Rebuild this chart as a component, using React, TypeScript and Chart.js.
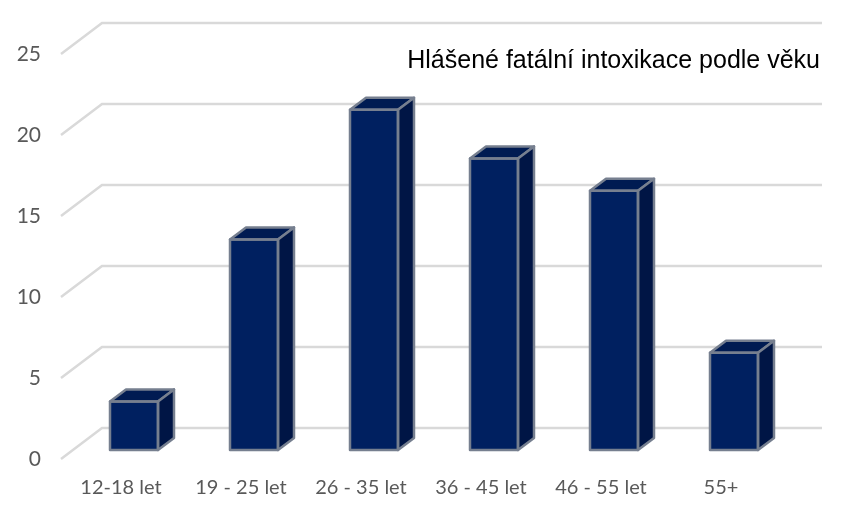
import React, { useEffect, useRef } from "react";
import { Chart, registerables } from "chart.js";

Chart.register(...registerables);

const categories = ["12-18 let", "19 - 25 let", "26 - 35 let", "36 - 45 let", "46 - 55 let", "55+"];
const values = [3, 13, 21, 18, 16, 6];
const titleText = "Hlášené fatální intoxikace podle věku";

const FRONT = "#002060";
const TOP = "#001b52";
const SIDE = "#001545";
const EDGE = "#767f8f";
const GRID = "#d9d9d9";
const TEXT = "#595959";
const PLANE = { dx: 13, dy: -9 };
const DEPTH = { dx: 16, dy: -12 };
const WALL = { dx: 41, dy: -31, right: 822 };

const wallGrid = {
  id: "wallGrid",
  beforeDatasetsDraw(chart: any) {
    const { ctx, scales } = chart;
    ctx.save();
    ctx.strokeStyle = GRID;
    ctx.lineWidth = 2.5;
    scales.y.ticks.forEach((t: any) => {
      const y = scales.y.getPixelForValue(t.value);
      const x = scales.x.left;
      ctx.beginPath();
      ctx.moveTo(x, y);
      ctx.lineTo(x + WALL.dx, y + WALL.dy);
      ctx.lineTo(WALL.right, y + WALL.dy);
      ctx.stroke();
    });
    ctx.restore();
    ctx.save();
    ctx.translate(PLANE.dx, PLANE.dy);
  },
  afterDatasetsDraw(chart: any) {
    const { ctx } = chart;
    const meta = chart.getDatasetMeta(0);
    ctx.strokeStyle = EDGE;
    ctx.lineWidth = 2.5;
    ctx.lineJoin = "round";
    meta.data.forEach((bar: any) => {
      const l = bar.x - bar.width / 2;
      const r = bar.x + bar.width / 2;
      const t = bar.y;
      const b = bar.base;
      ctx.beginPath();
      ctx.moveTo(l, t);
      ctx.lineTo(l + DEPTH.dx, t + DEPTH.dy);
      ctx.lineTo(r + DEPTH.dx, t + DEPTH.dy);
      ctx.lineTo(r, t);
      ctx.closePath();
      ctx.fillStyle = TOP;
      ctx.fill();
      ctx.stroke();
      ctx.beginPath();
      ctx.moveTo(r, t);
      ctx.lineTo(r + DEPTH.dx, t + DEPTH.dy);
      ctx.lineTo(r + DEPTH.dx, b + DEPTH.dy);
      ctx.lineTo(r, b);
      ctx.closePath();
      ctx.fillStyle = SIDE;
      ctx.fill();
      ctx.stroke();
      ctx.strokeRect(l, t, r - l, b - t);
    });
    ctx.restore();
  },
  afterDraw(chart: any) {
    const { ctx } = chart;
    ctx.save();
    ctx.font = '25px "Liberation Sans"';
    ctx.fillStyle = "#000000";
    ctx.textAlign = "right";
    ctx.textBaseline = "middle";
    ctx.fillText(titleText, 820, 61);
    ctx.restore();
  },
};

export default function App() {
  const ref = useRef<HTMLCanvasElement>(null);
  useEffect(() => {
    const chart = new Chart(ref.current!, {
      type: "bar",
      data: {
        labels: categories,
        datasets: [
          {
            data: values,
            backgroundColor: FRONT,
            borderWidth: 0,
            barThickness: 48,
          },
        ],
      },
      plugins: [wallGrid],
      options: {
        responsive: false,
        devicePixelRatio: 1,
        animation: false,
        layout: { padding: { top: 54, right: 76, left: 0, bottom: 0 } },
        plugins: { legend: { display: false }, title: { display: false }, tooltip: { enabled: false } },
        scales: {
          x: {
            grid: { display: false },
            border: { display: false },
            afterFit(scale: any) {
              scale.height = 57;
            },
            ticks: {
              color: TEXT,
              font: { family: "Lato", size: 20 },
              maxRotation: 0,
              autoSkip: false,
              padding: 9,
            },
          },
          y: {
            min: 0,
            max: 25,
            grid: { display: false },
            border: { display: false },
            afterFit(scale: any) {
              scale.width = 61;
            },
            ticks: {
              stepSize: 5,
              color: TEXT,
              font: { family: "Lato", size: 21 },
              padding: 12,
            },
          },
        },
      } as any,
    });
    return () => chart.destroy();
  }, []);
  return (
    <canvas
      ref={ref}
      width={857}
      height={516}
      style={{ position: "absolute", top: 0, left: 0, display: "block" }}
    />
  );
}
